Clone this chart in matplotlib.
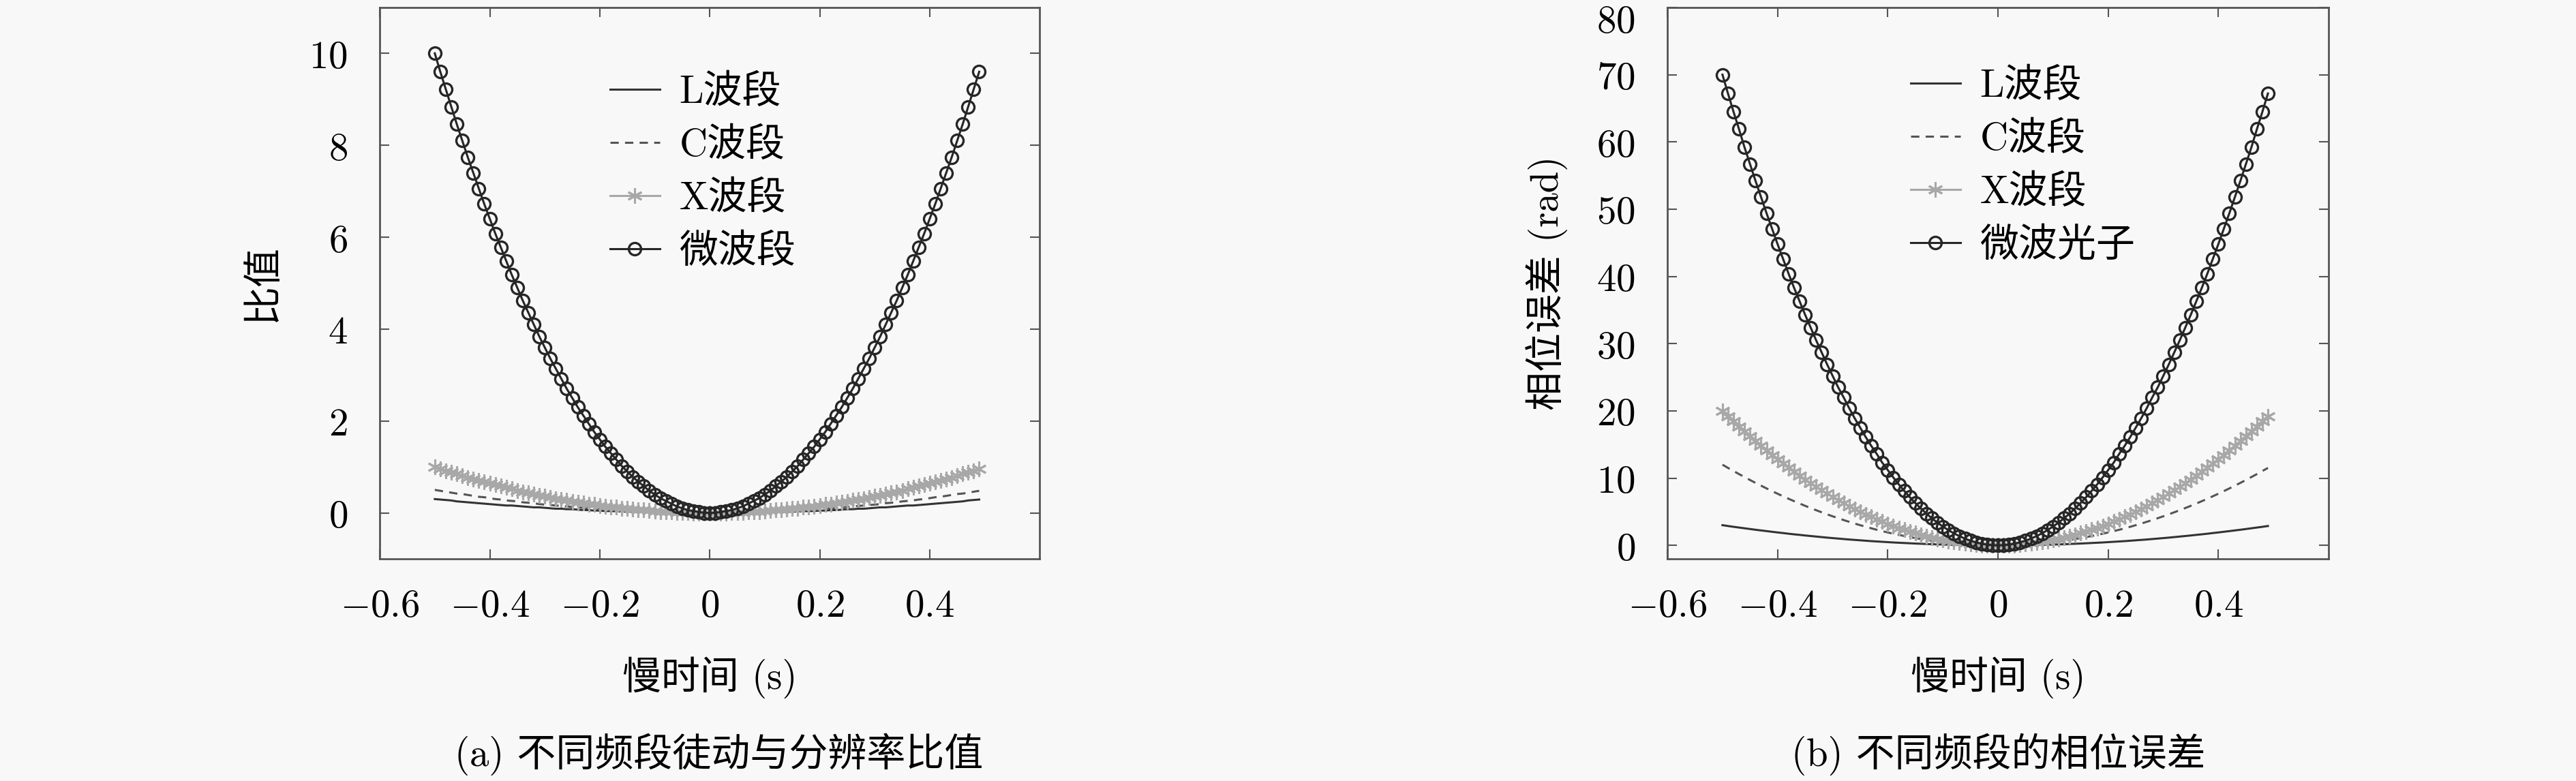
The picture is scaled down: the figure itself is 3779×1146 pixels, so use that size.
import matplotlib
matplotlib.use('Agg')
import matplotlib.pyplot as plt
import matplotlib.transforms as mtransforms

# slow time axis (s)
slow_time = [-0.50, -0.49, -0.48, -0.47, -0.46, -0.45, -0.44, -0.43, -0.42, -0.41,
             -0.40, -0.39, -0.38, -0.37, -0.36, -0.35, -0.34, -0.33, -0.32, -0.31,
             -0.30, -0.29, -0.28, -0.27, -0.26, -0.25, -0.24, -0.23, -0.22, -0.21,
             -0.20, -0.19, -0.18, -0.17, -0.16, -0.15, -0.14, -0.13, -0.12, -0.11,
             -0.10, -0.09, -0.08, -0.07, -0.06, -0.05, -0.04, -0.03, -0.02, -0.01,
             0.00, 0.01, 0.02, 0.03, 0.04, 0.05, 0.06, 0.07, 0.08, 0.09,
             0.10, 0.11, 0.12, 0.13, 0.14, 0.15, 0.16, 0.17, 0.18, 0.19,
             0.20, 0.21, 0.22, 0.23, 0.24, 0.25, 0.26, 0.27, 0.28, 0.29,
             0.30, 0.31, 0.32, 0.33, 0.34, 0.35, 0.36, 0.37, 0.38, 0.39,
             0.40, 0.41, 0.42, 0.43, 0.44, 0.45, 0.46, 0.47, 0.48, 0.49]

# (a) migration / resolution ratio
ratio_L = [0.30, 0.29, 0.28, 0.27, 0.25, 0.24, 0.23, 0.22, 0.21, 0.20,
           0.19, 0.18, 0.17, 0.16, 0.16, 0.15, 0.14, 0.13, 0.12, 0.12,
           0.11, 0.10, 0.09, 0.09, 0.08, 0.08, 0.07, 0.06, 0.06, 0.05,
           0.05, 0.04, 0.04, 0.035, 0.03, 0.027, 0.024, 0.02, 0.017, 0.015,
           0.012, 0.01, 0.008, 0.006, 0.004, 0.003, 0.002, 0.001, 0.0, 0.0,
           0.0, 0.0, 0.0, 0.001, 0.002, 0.003, 0.004, 0.006, 0.008, 0.01,
           0.012, 0.015, 0.017, 0.02, 0.024, 0.027, 0.03, 0.035, 0.04, 0.04,
           0.05, 0.05, 0.06, 0.06, 0.07, 0.08, 0.08, 0.09, 0.09, 0.10,
           0.11, 0.12, 0.12, 0.13, 0.14, 0.15, 0.16, 0.16, 0.17, 0.18,
           0.19, 0.20, 0.21, 0.22, 0.23, 0.24, 0.25, 0.27, 0.28, 0.29]
ratio_C = [0.50, 0.48, 0.46, 0.44, 0.42, 0.41, 0.39, 0.37, 0.35, 0.34,
           0.32, 0.30, 0.29, 0.27, 0.26, 0.25, 0.23, 0.22, 0.21, 0.19,
           0.18, 0.17, 0.16, 0.15, 0.14, 0.13, 0.12, 0.11, 0.10, 0.09,
           0.08, 0.07, 0.07, 0.06, 0.05, 0.05, 0.04, 0.03, 0.03, 0.02,
           0.02, 0.02, 0.01, 0.01, 0.01, 0.01, 0.0, 0.0, 0.0, 0.0,
           0.0, 0.0, 0.0, 0.0, 0.0, 0.01, 0.01, 0.01, 0.01, 0.02,
           0.02, 0.02, 0.03, 0.03, 0.04, 0.05, 0.05, 0.06, 0.07, 0.07,
           0.08, 0.09, 0.10, 0.11, 0.12, 0.13, 0.14, 0.15, 0.16, 0.17,
           0.18, 0.19, 0.21, 0.22, 0.23, 0.25, 0.26, 0.27, 0.29, 0.30,
           0.32, 0.34, 0.35, 0.37, 0.39, 0.41, 0.42, 0.44, 0.46, 0.48]
ratio_X = [1.00, 0.96, 0.92, 0.88, 0.85, 0.81, 0.77, 0.74, 0.71, 0.67,
           0.64, 0.61, 0.58, 0.55, 0.52, 0.49, 0.46, 0.44, 0.41, 0.38,
           0.36, 0.34, 0.31, 0.29, 0.27, 0.25, 0.23, 0.21, 0.19, 0.18,
           0.16, 0.14, 0.13, 0.12, 0.10, 0.09, 0.08, 0.07, 0.06, 0.05,
           0.04, 0.03, 0.03, 0.02, 0.01, 0.01, 0.01, 0.0, 0.0, 0.0,
           0.0, 0.0, 0.0, 0.0, 0.01, 0.01, 0.01, 0.02, 0.03, 0.03,
           0.04, 0.05, 0.06, 0.07, 0.08, 0.09, 0.10, 0.12, 0.13, 0.14,
           0.16, 0.18, 0.19, 0.21, 0.23, 0.25, 0.27, 0.29, 0.31, 0.34,
           0.36, 0.38, 0.41, 0.44, 0.46, 0.49, 0.52, 0.55, 0.58, 0.61,
           0.64, 0.67, 0.71, 0.74, 0.77, 0.81, 0.85, 0.88, 0.92, 0.96]
ratio_mw = [10.0, 9.60, 9.22, 8.84, 8.46, 8.10, 7.74, 7.40, 7.06, 6.72,
            6.40, 6.08, 5.78, 5.48, 5.18, 4.90, 4.62, 4.36, 4.10, 3.84,
            3.60, 3.36, 3.14, 2.92, 2.70, 2.50, 2.30, 2.12, 1.94, 1.76,
            1.60, 1.44, 1.30, 1.16, 1.02, 0.90, 0.78, 0.68, 0.58, 0.48,
            0.40, 0.32, 0.26, 0.20, 0.14, 0.10, 0.06, 0.04, 0.02, 0.0,
            0.0, 0.0, 0.02, 0.04, 0.06, 0.10, 0.14, 0.20, 0.26, 0.32,
            0.40, 0.48, 0.58, 0.68, 0.78, 0.90, 1.02, 1.16, 1.30, 1.44,
            1.60, 1.76, 1.94, 2.12, 2.30, 2.50, 2.70, 2.92, 3.14, 3.36,
            3.60, 3.84, 4.10, 4.36, 4.62, 4.90, 5.18, 5.48, 5.78, 6.08,
            6.40, 6.72, 7.06, 7.40, 7.74, 8.10, 8.46, 8.84, 9.22, 9.60]

# (b) phase error (rad)
phase_L = [3.00, 2.88, 2.76, 2.65, 2.54, 2.43, 2.32, 2.22, 2.12, 2.02,
           1.92, 1.83, 1.73, 1.64, 1.56, 1.47, 1.39, 1.31, 1.23, 1.15,
           1.08, 1.01, 0.94, 0.87, 0.81, 0.75, 0.69, 0.63, 0.58, 0.53,
           0.48, 0.43, 0.39, 0.35, 0.31, 0.27, 0.24, 0.20, 0.17, 0.15,
           0.12, 0.10, 0.08, 0.06, 0.04, 0.03, 0.02, 0.01, 0.0, 0.0,
           0.0, 0.0, 0.0, 0.01, 0.02, 0.03, 0.04, 0.06, 0.08, 0.10,
           0.12, 0.15, 0.17, 0.20, 0.24, 0.27, 0.31, 0.35, 0.39, 0.43,
           0.48, 0.53, 0.58, 0.63, 0.69, 0.75, 0.81, 0.87, 0.94, 1.01,
           1.08, 1.15, 1.23, 1.31, 1.39, 1.47, 1.56, 1.64, 1.73, 1.83,
           1.92, 2.02, 2.12, 2.22, 2.32, 2.43, 2.54, 2.65, 2.76, 2.88]
phase_C = [12.0, 11.52, 11.06, 10.60, 10.16, 9.72, 9.29, 8.88, 8.47, 8.07,
           7.68, 7.30, 6.93, 6.57, 6.22, 5.88, 5.55, 5.23, 4.92, 4.61,
           4.32, 4.04, 3.76, 3.50, 3.24, 3.00, 2.76, 2.54, 2.32, 2.12,
           1.92, 1.73, 1.56, 1.39, 1.23, 1.08, 0.94, 0.81, 0.69, 0.58,
           0.48, 0.39, 0.31, 0.24, 0.17, 0.12, 0.08, 0.04, 0.02, 0.0,
           0.0, 0.0, 0.02, 0.04, 0.08, 0.12, 0.17, 0.24, 0.31, 0.39,
           0.48, 0.58, 0.69, 0.81, 0.94, 1.08, 1.23, 1.39, 1.56, 1.73,
           1.92, 2.12, 2.32, 2.54, 2.76, 3.00, 3.24, 3.50, 3.76, 4.04,
           4.32, 4.61, 4.92, 5.23, 5.55, 5.88, 6.22, 6.57, 6.93, 7.30,
           7.68, 8.07, 8.47, 8.88, 9.29, 9.72, 10.16, 10.60, 11.06, 11.52]
phase_X = [20.0, 19.21, 18.43, 17.67, 16.93, 16.20, 15.49, 14.79, 14.11, 13.45,
           12.80, 12.17, 11.55, 10.95, 10.37, 9.80, 9.25, 8.71, 8.19, 7.69,
           7.20, 6.73, 6.27, 5.83, 5.41, 5.00, 4.61, 4.23, 3.87, 3.53,
           3.20, 2.89, 2.59, 2.31, 2.05, 1.80, 1.57, 1.35, 1.15, 0.97,
           0.80, 0.65, 0.51, 0.39, 0.29, 0.20, 0.13, 0.07, 0.03, 0.01,
           0.0, 0.01, 0.03, 0.07, 0.13, 0.20, 0.29, 0.39, 0.51, 0.65,
           0.80, 0.97, 1.15, 1.35, 1.57, 1.80, 2.05, 2.31, 2.59, 2.89,
           3.20, 3.53, 3.87, 4.23, 4.61, 5.00, 5.41, 5.83, 6.27, 6.73,
           7.20, 7.69, 8.19, 8.71, 9.25, 9.80, 10.37, 10.95, 11.55, 12.17,
           12.80, 13.45, 14.11, 14.79, 15.49, 16.20, 16.93, 17.67, 18.43, 19.21]
phase_mw = [70.0, 67.2, 64.5, 61.9, 59.2, 56.7, 54.2, 51.8, 49.4, 47.1,
            44.8, 42.6, 40.4, 38.3, 36.3, 34.3, 32.4, 30.5, 28.7, 26.9,
            25.2, 23.5, 22.0, 20.4, 18.9, 17.5, 16.1, 14.8, 13.6, 12.3,
            11.2, 10.1, 9.07, 8.09, 7.17, 6.30, 5.49, 4.73, 4.03, 3.39,
            2.80, 2.27, 1.79, 1.37, 1.01, 0.70, 0.45, 0.25, 0.11, 0.03,
            0.0, 0.03, 0.11, 0.25, 0.45, 0.70, 1.01, 1.37, 1.79, 2.27,
            2.80, 3.39, 4.03, 4.73, 5.49, 6.30, 7.17, 8.09, 9.07, 10.1,
            11.2, 12.3, 13.6, 14.8, 16.1, 17.5, 18.9, 20.4, 22.0, 23.5,
            25.2, 26.9, 28.7, 30.5, 32.4, 34.3, 36.3, 38.3, 40.4, 42.6,
            44.8, 47.1, 49.4, 51.8, 54.2, 56.7, 59.2, 61.9, 64.5, 67.2]

x_ticks = [-0.6, -0.4, -0.2, 0, 0.2, 0.4]
x_tick_labels = ['$-0.6$', '$-0.4$', '$-0.2$', '$0$', '$0.2$', '$0.4$']
ya_ticks = [0, 2, 4, 6, 8, 10]
yb_ticks = [0, 10, 20, 30, 40, 50, 60, 70, 80]

labels_a = ['L波段', 'C波段', 'X波段', '微波段']
labels_b = ['L波段', 'C波段', 'X波段', '微波光子']

plt.rcParams['mathtext.fontset'] = 'cm'
fam = ['cmr10', 'Noto Sans CJK SC']
fs = 41
bg = '#f8f8f8'

fig = plt.figure(figsize=(37.8, 11.46), dpi=100, facecolor=bg)
ax1 = fig.add_axes([0.1474, 0.2845, 0.2561, 0.706])
ax2 = fig.add_axes([0.6471, 0.2845, 0.2566, 0.706])


def draw(ax, yl, ym, yx, ymw, labels, leg_pos):
    ax.set_facecolor(bg)
    ax.plot(slow_time, yl, color='#333333', linewidth=2.2, label=labels[0])
    ax.plot(slow_time, ym, color='#555555', linewidth=2.2, linestyle=(0, (4, 3)), label=labels[1])
    ax.plot(slow_time, yx, color='#a8a8a8', linewidth=2.2, marker=(6, 2, 0),
            markersize=16, markeredgewidth=2.2, label=labels[2])
    ax.plot(slow_time, ymw, color='#262626', linewidth=2.2, marker='o', markersize=13,
            markerfacecolor='none', markeredgewidth=2.4, label=labels[3])
    ax.set_xlim(-0.6, 0.6)
    ax.set_xticks(x_ticks)
    ax.set_xticklabels(x_tick_labels)
    ax.tick_params(direction='in', length=10, width=1.5, labelsize=fs,
                   top=True, right=True, color='#555555')
    ax.tick_params(axis='x', pad=30)
    ax.tick_params(axis='y', pad=34)
    for s in ax.spines.values():
        s.set_color('#555555')
        s.set_linewidth(2)
    ax.set_xlabel('慢时间 (s)', family=fam, fontsize=fs, labelpad=34)
    ax.legend(loc='upper left', bbox_to_anchor=leg_pos, frameon=False, borderpad=0,
              borderaxespad=0, prop={'family': fam, 'size': fs}, handlelength=1.28,
              handletextpad=0.5, labelspacing=0.43)


draw(ax1, ratio_L, ratio_C, ratio_X, ratio_mw, labels_a, (0.349, 0.879))
ax1.set_ylim(-1, 11)
ax1.set_yticks(ya_ticks)
ax1.set_yticklabels([f'${v}$' for v in ya_ticks])
ax1.set_ylabel('比值', family=fam, fontsize=fs, labelpad=30)

draw(ax2, phase_L, phase_C, phase_X, phase_mw, labels_b, (0.368, 0.890))
ax2.set_ylim(-2, 80)
ax2.set_yticks(yb_ticks)
ax2.set_yticklabels([f'${v}$' for v in yb_ticks])
ax2.set_ylabel('相位误差 (rad)', family=fam, fontsize=fs, labelpad=30)

# top label sits a bit lower in the original
top_lbl = ax2.get_yticklabels()[-1]
top_lbl.set_transform(top_lbl.get_transform() +
                      mtransforms.ScaledTranslation(0, -16 / 100, fig.dpi_scale_trans))

fig.text(0.279, 0.034, '(a) 不同频段徒动与分辨率比值', family=fam, fontsize=fs,
         ha='center', va='center')
fig.text(0.7757, 0.034, '(b) 不同频段的相位误差', family=fam, fontsize=fs,
         ha='center', va='center')

fig.savefig('out.png', dpi=100, facecolor=bg)
